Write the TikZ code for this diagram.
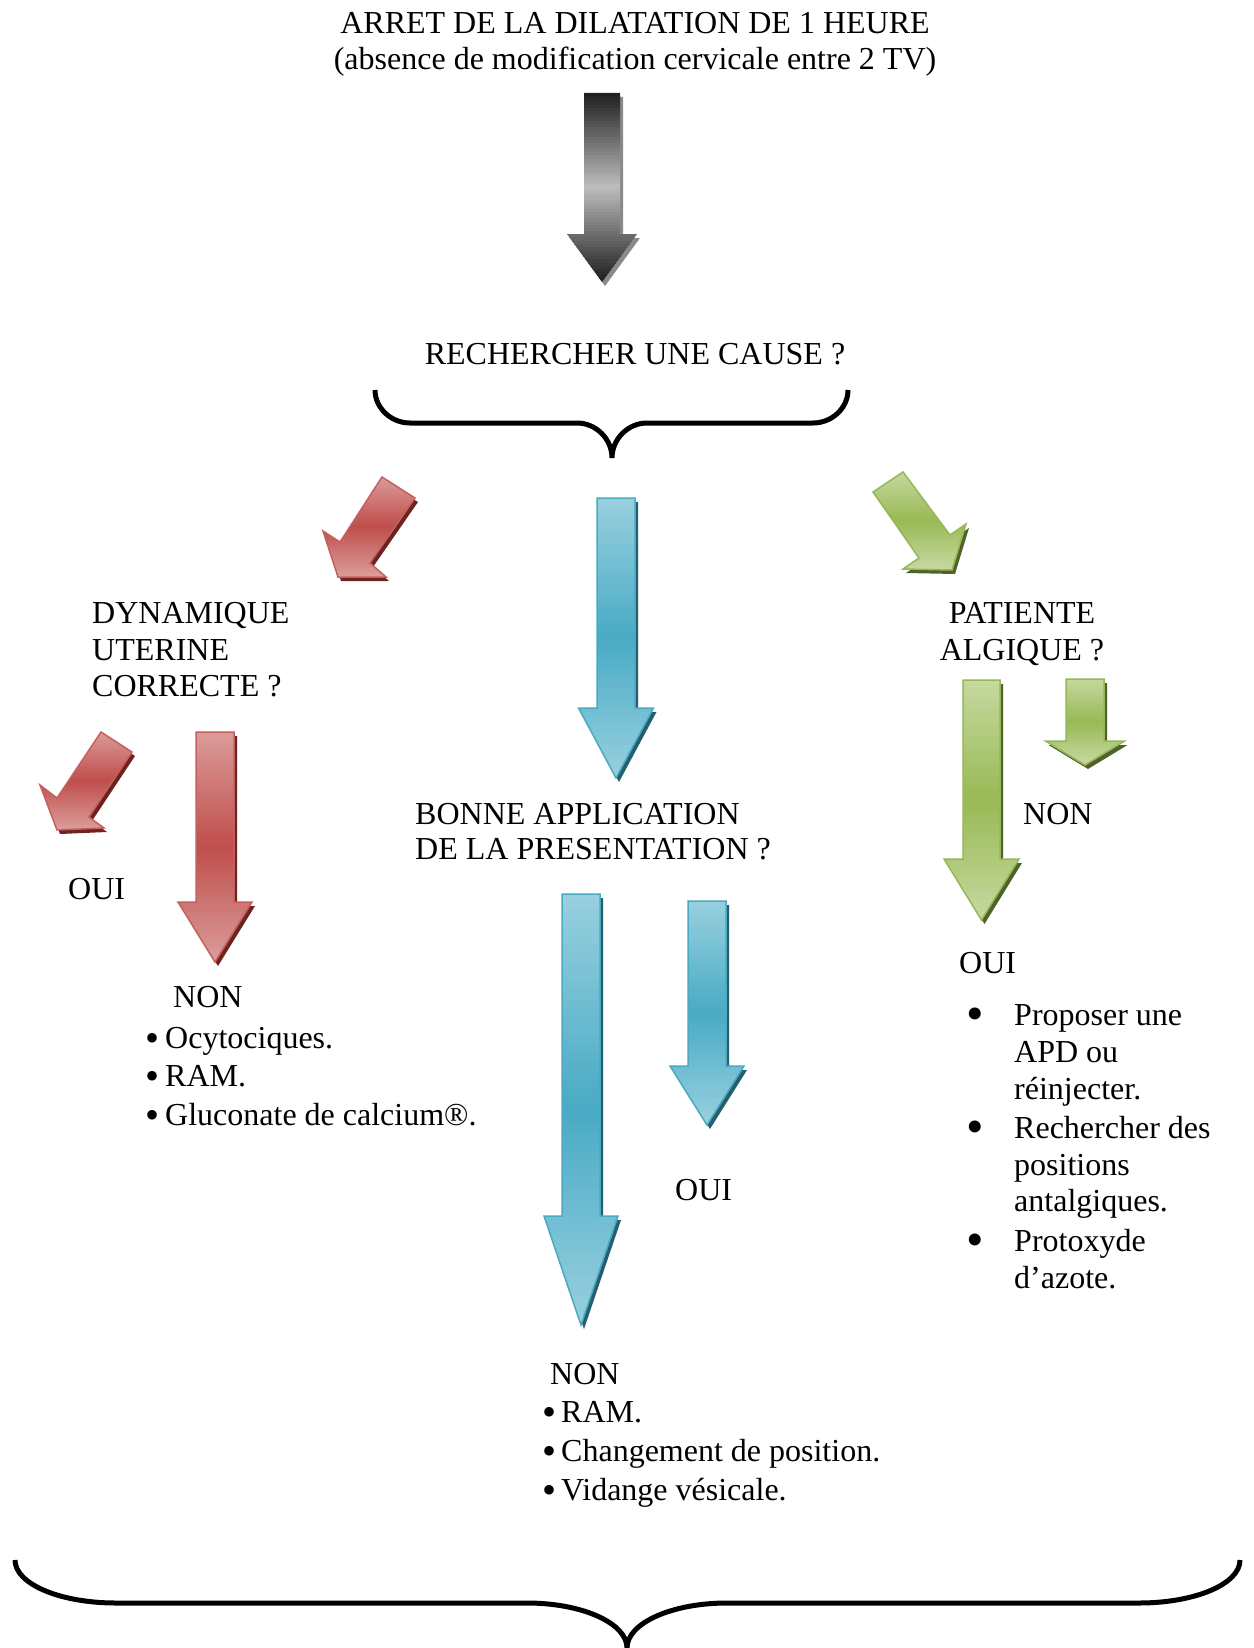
\documentclass[tikz,border=0pt]{standalone}
\usepackage{fontspec}
\setmainfont{Liberation Serif}
\definecolor{redL}{HTML}{DB9C9A}
\definecolor{redM}{HTML}{BF4E4B}
\definecolor{redB}{HTML}{C4605D}
\definecolor{redS}{HTML}{6E2321}
\definecolor{blueL}{HTML}{98D0DF}
\definecolor{blueM}{HTML}{48AAC4}
\definecolor{blueB}{HTML}{4BA9C2}
\definecolor{blueS}{HTML}{245F6E}
\definecolor{greenL}{HTML}{C6D9A0}
\definecolor{greenM}{HTML}{98B954}
\definecolor{greenB}{HTML}{96B757}
\definecolor{greenS}{HTML}{4F6228}
\definecolor{grayL}{HTML}{1E1E1E}
\definecolor{grayM}{HTML}{BEBEBE}
\definecolor{grayS}{HTML}{8A8A8A}
% bullets
\newcommand\smallbul{{\fontsize{40}{40}\selectfont\raisebox{-3pt}{•}}}
\newcommand\bigbul{{\fontsize{50}{50}\selectfont\raisebox{-5pt}{•}}}
% block arrow: kind, outline, top y, bottom y (gradient light - dark - light)
\newcommand\blockarrow[4]{%
  \fill[#1shadow, shift={(3,4)}] #2;
  \begin{scope}
    \clip #2;
    \foreach \i in {0,...,59}{%
      \pgfmathtruncatemacro\p{100*(1-abs(2*(\i+0.5)/60-1))}%
      \pgfmathsetmacro\ya{#3+(#4-#3)*(\i/60)-0.5}%
      \pgfmathsetmacro\yb{#3+(#4-#3)*((\i+1)/60)+0.5}%
      \fill[#1M!\p!#1L] (-10,\ya) rectangle (1300,\yb);
    }
  \end{scope}
  \draw[#1line] #2;}
% vertical block arrow: cx, top, shaft half width, head half width, head top, tip, kind
\newcommand\varrow[7]{%
  \blockarrow{#7}{(#1-#3,#2) -- (#1+#3,#2) -- (#1+#3,#5) -- (#1+#4,#5) -- (#1,#6) -- (#1-#4,#5) -- (#1-#3,#5) -- cycle}{#2}{#6}}
\begin{document}
\begin{tikzpicture}[x=1pt,y=-1pt,
  txt/.style={anchor=base west, inner sep=0pt, font=\fontsize{32}{37}\selectfont},
  ctxt/.style={anchor=base, inner sep=0pt, font=\fontsize{32}{37}\selectfont},
  bracepath/.style={line width=5pt},
  redshadow/.style={fill=redS},
  redline/.style={draw=redB, line width=1.5pt},
  blueshadow/.style={fill=blueS},
  blueline/.style={draw=blueB, line width=1.5pt},
  greenshadow/.style={fill=greenS},
  greenline/.style={draw=greenB, line width=1.5pt},
  grayshadow/.style={fill=grayS},
  grayline/.style={draw=none}]
\useasboundingbox (0,0) rectangle (1253,1648);
\fill[white] (0,0) rectangle (1253,1648);

% title
\node[ctxt] (title1) at (635,34) {ARRET DE LA DILATATION DE 1 HEURE};
\node[ctxt] (title2) at (635,70) {(absence de modification cervicale entre 2 TV)};

% top arrow
\varrow{602}{93}{18}{35}{234}{282}{gray}

\node[ctxt] (cause) at (635,364) {RECHERCHER UNE CAUSE ?};

% top brace
\draw[bracepath] (375,390) .. controls (375,408) and (391,423) .. (410,423) -- (577,423)
  .. controls (596,423) and (612,439) .. (612,458)
  .. controls (612,439) and (628,423) .. (647,423) -- (813,423)
  .. controls (832,423) and (848,408) .. (848,390);

% three branch arrows
\blockarrow{red}{(382,477) -- (415,498) -- (370,563) -- (386,577) -- (338,577) -- (323,531) -- (340,542) -- cycle}{477}{577}
\varrow{616}{498}{19}{37.5}{708}{778}{blue}
\blockarrow{green}{(903,472) -- (950,535) -- (966,524) -- (952,570) -- (903,569) -- (919,558) -- (873,492) -- cycle}{472}{570}

% left branch
\node[txt] (dyn1) at (92,623) {DYNAMIQUE};
\node[txt] (dyn2) at (92,660) {UTERINE};
\node[txt] (dyn3) at (92,696) {CORRECTE ?};
\blockarrow{red}{(101,732) -- (132,752) -- (89,817) -- (104,828) -- (57,830) -- (40,785) -- (57,798) -- cycle}{732}{830}
\varrow{215}{732}{19}{37}{902}{962}{red}
\node[txt] (ouiL) at (68,899) {OUI};
\node[txt] (nonL) at (173,1007) {NON};
\node[txt] (iL1) at (145,1048) {\smallbul\hspace{6pt}Ocytociques.};
\node[txt] (iL2) at (145,1086) {\smallbul\hspace{6pt}RAM.};
\node[txt] (iL3) at (145,1125) {\smallbul\hspace{6pt}Gluconate de calcium®.};

% centre branch
\node[txt] (bon1) at (415,824) {BONNE APPLICATION};
\node[txt] (bon2) at (415,859) {DE LA PRESENTATION ?};
\varrow{581}{894}{19}{37}{1216}{1325}{blue}
\varrow{707}{901}{19}{37}{1066}{1125}{blue}
\node[txt] (ouiC) at (675,1200) {OUI};
\node[txt] (nonC) at (550,1384) {NON};
\node[txt] (iC1) at (542,1422) {\smallbul\hspace{5pt}RAM.};
\node[txt] (iC2) at (542,1461) {\smallbul\hspace{5pt}Changement de position.};
\node[txt] (iC3) at (542,1500) {\smallbul\hspace{5pt}Vidange vésicale.};

% right branch
\node[ctxt] (pat1) at (1022,623) {PATIENTE};
\node[ctxt] (pat2) at (1022,660) {ALGIQUE ?};
\varrow{981.5}{680}{18.5}{37.5}{859}{920}{green}
\varrow{1085}{679}{19}{39.5}{741}{765}{green}
\node[txt] (nonR) at (1023,824) {NON};
\node[txt] (ouiR) at (959,973) {OUI};
\node[txt] (iR1a) at (966,1025) {\makebox[48pt][l]{\bigbul}Proposer une};
\node[txt] (iR1b) at (1014,1062) {APD ou};
\node[txt] (iR1c) at (1014,1099) {réinjecter.};
\node[txt] (iR2a) at (966,1138) {\makebox[48pt][l]{\bigbul}Rechercher des};
\node[txt] (iR2b) at (1014,1175) {positions};
\node[txt] (iR2c) at (1014,1211) {antalgiques.};
\node[txt] (iR3a) at (966,1251) {\makebox[48pt][l]{\bigbul}Protoxyde};
\node[txt] (iR3b) at (1014,1288) {d’azote.};

% bottom brace
\draw[bracepath] (15,1560) .. controls (15,1584) and (60,1603) .. (116,1603) -- (527,1603)
  .. controls (582,1603) and (627,1623) .. (627,1648)
  .. controls (627,1623) and (672,1603) .. (727,1603) -- (1139,1603)
  .. controls (1195,1603) and (1240,1584) .. (1240,1560);
\end{tikzpicture}
\end{document}
